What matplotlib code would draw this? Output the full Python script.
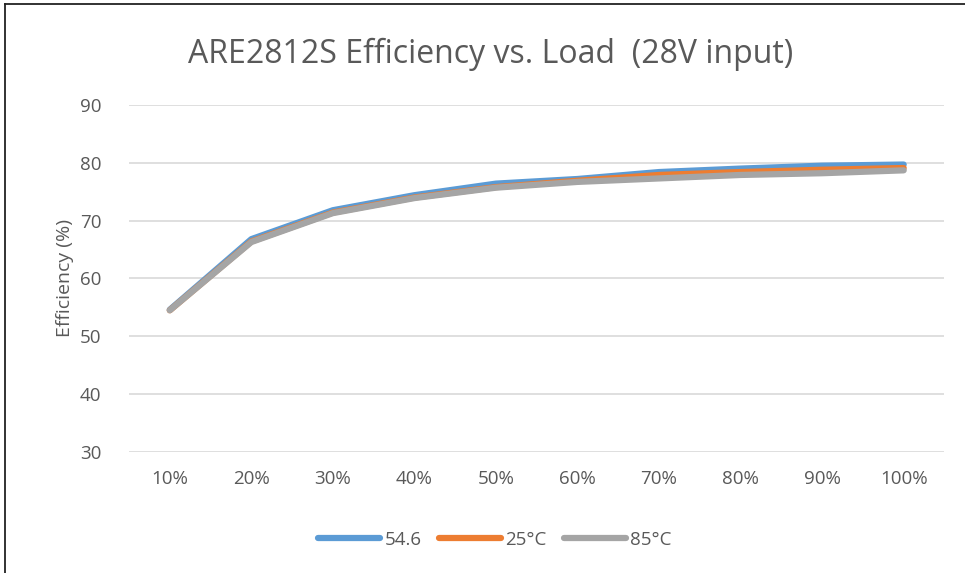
import matplotlib
matplotlib.use("Agg")
import matplotlib.pyplot as plt
from matplotlib.lines import Line2D

# dados
cargas = ["10%", "20%", "30%", "40%", "50%", "60%", "70%", "80%", "90%", "100%"]
serie_546 = [54.6, 66.8, 71.8, 74.4, 76.4, 77.2, 78.4, 79.0, 79.5, 79.7]
serie_25 = [54.5, 66.4, 71.4, 74.0, 75.8, 76.9, 77.9, 78.4, 78.8, 79.1]
serie_85 = [54.5, 66.3, 71.3, 73.9, 75.7, 76.7, 77.3, 77.9, 78.2, 78.7]
nomes = ["54.6", "25°C", "85°C"]
cores = ["#5B9BD5", "#ED7D31", "#A5A5A5"]

plt.rcParams["font.family"] = ["Open Sans", "DejaVu Sans"]
texto = "#595959"

fig = plt.figure(figsize=(9.65, 5.73), dpi=100)
ax = fig.add_axes([0.1337, 0.2112, 0.845, 0.6056])

x = range(len(cargas))
for vals, cor, nome in zip([serie_546, serie_25, serie_85], cores, nomes):
    ax.plot(x, vals, color=cor, lw=4.5, solid_capstyle="round",
            solid_joinstyle="round", label=nome)

ax.set_xlim(-0.5, len(cargas) - 0.5)
ax.set_ylim(30, 90)
ax.set_yticks(range(30, 91, 10))
ax.set_xticks(list(x))
ax.set_xticklabels(cargas)
ax.grid(axis="y", color="#D9D9D9", lw=1.2)
ax.set_axisbelow(True)
for s in ax.spines.values():
    s.set_visible(False)
ax.tick_params(length=0, labelsize=13.5, colors=texto, pad=13)
ax.tick_params(axis="y", pad=20)
ax.set_ylabel("Efficiency (%)", fontsize=14, color=texto, labelpad=4)

fig.text(0.508, 0.905, "ARE2812S Efficiency vs. Load  (28V input)",
         ha="center", va="center", fontsize=23, color=texto)

handles = [Line2D([], [], color=c, lw=4.5, solid_capstyle="round") for c in cores]
fig.legend(handles, nomes, loc="center", bbox_to_anchor=(0.513, 0.058),
           ncol=3, frameon=False, fontsize=13.5, labelcolor=texto,
           handlelength=3.3, handletextpad=0.25, columnspacing=0.9)

# moldura (só topo e esquerda visíveis)
fig.add_artist(Line2D([0.005, 1.0], [0.993, 0.993], color="#222222", lw=1.3,
                      transform=fig.transFigure))
fig.add_artist(Line2D([0.005, 0.005], [0.0, 0.993], color="#222222", lw=1.3,
                      transform=fig.transFigure))

fig.savefig("out.png", dpi=100, facecolor="white")
